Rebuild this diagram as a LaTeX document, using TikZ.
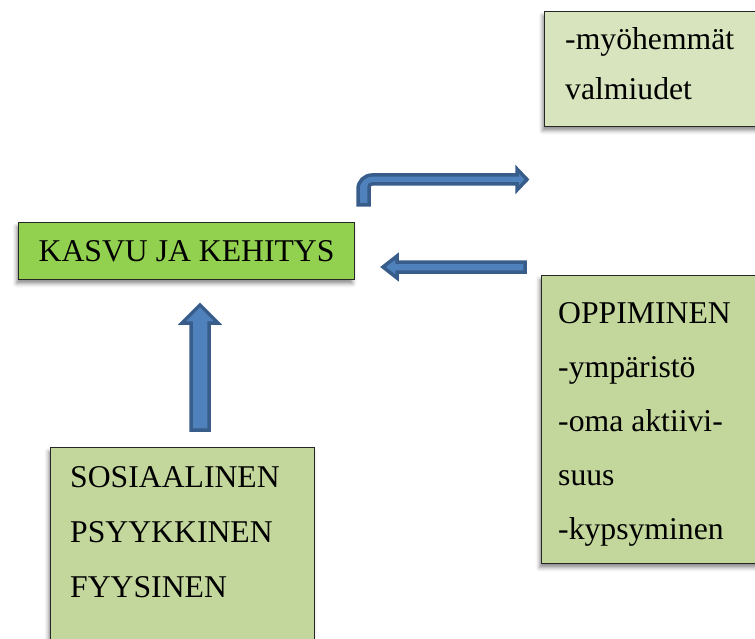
\documentclass[tikz,border=0pt]{standalone}
\usepackage{fontspec}
\setmainfont{Liberation Serif}
\usetikzlibrary{shadows.blur}

\definecolor{kasvugreen}{HTML}{92D050}
\definecolor{palegreen}{HTML}{D7E4BD}
\definecolor{sagegreen}{HTML}{C3D69B}
\definecolor{arrowfill}{HTML}{4F81BD}
\definecolor{arrowline}{HTML}{385D8A}

\tikzset{
  box/.style={draw=black!85, line width=1.2pt, inner sep=0pt, anchor=north west,
    blur shadow={shadow xshift=-2pt, shadow yshift=-4pt, shadow blur radius=4pt, shadow opacity=45}},
  line/.style={anchor=base west, inner sep=0pt, font=\fontsize{31.7}{38}\selectfont},
  blockarrow/.style={draw=arrowline, fill=arrowfill, line width=3.5pt, line join=miter},
}

\begin{document}
\begin{tikzpicture}[x=1pt, y=-1pt]
        \useasboundingbox (0,0) rectangle (755,639);
        \clip (0,0) rectangle (755,639);

        % boxes
        \node[box, fill=kasvugreen, minimum width=336pt, minimum height=57pt,
              font=\fontsize{31.7}{38}\selectfont, text height=21pt, text depth=0pt] (kasvu) at (18,222) {KASVU JA KEHITYS};
        \node[box, fill=palegreen, minimum width=230pt, minimum height=115pt] (later) at (544,11) {};
        \node[box, fill=sagegreen, minimum width=230pt, minimum height=288pt] (learn) at (541,275) {};
        \node[box, fill=sagegreen, minimum width=264pt, minimum height=220pt] (areas) at (50,447) {};

        \node[line] (later1) at (565,50) {-myöhemmät};
        \node[line] (later2) at (565,100) {valmiudet};

        \node[line] (learn1) at (558,323) {OPPIMINEN};
        \node[line] (learn2) at (558,377) {-ympäristö};
        \node[line] (learn3) at (558,431) {-oma aktiivi-};
        \node[line] (learn4) at (558,485) {suus};
        \node[line] (learn5) at (558,539) {-kypsyminen};

        \node[line] (areas1) at (70,487) {SOSIAALINEN};
        \node[line] (areas2) at (70,542) {PSYYKKINEN};
        \node[line] (areas3) at (70,597) {FYYSINEN};

        % arrows
        \draw[blockarrow] (191,430) -- (191,323) -- (182,323) -- (200,305) -- (218,323) -- (209,323) -- (209,430) -- cycle;
        \draw[blockarrow] (525,262) -- (397,262) -- (397,256) -- (383,267) -- (397,278) -- (397,272) -- (525,272) -- cycle;
        \draw[blockarrow] (358,205) -- (358,189) arc[start angle=180, end angle=90, radius=14pt]
              -- (517,175) -- (517,169) -- (527,179.5) -- (517,190) -- (517,184) -- (372,184)
              arc[start angle=90, end angle=180, radius=3pt] -- (369,205) -- cycle;
    \end{tikzpicture}
\end{document}
